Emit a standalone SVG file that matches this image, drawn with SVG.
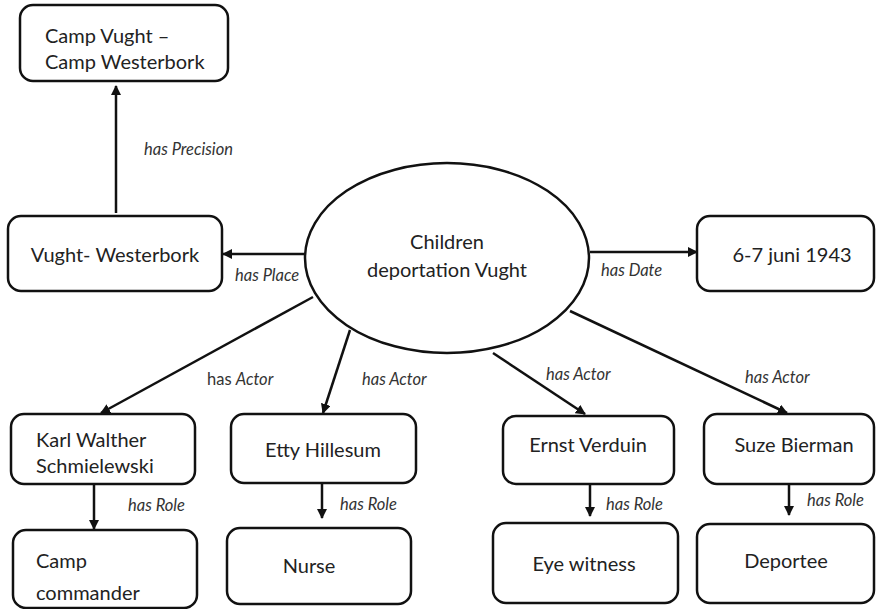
<svg xmlns="http://www.w3.org/2000/svg" width="877" height="609" viewBox="0 0 877 609">
<style>
.box{fill:#fff;stroke:#111;stroke-width:2.5}
.t{font-family:Lato,"Open Sans","Liberation Sans",sans-serif;font-size:20px;fill:#222}
.c{text-anchor:middle}
.l{font-family:Lato,"Open Sans","Liberation Sans",sans-serif;font-size:16.5px;font-style:italic;fill:#333}
.n{font-style:normal}
.e{stroke:#111;stroke-width:2.5;fill:none;marker-end:url(#ah)}
</style>
<defs>
<marker id="ah" viewBox="0 0 10 10" refX="9" refY="5" markerWidth="4" markerHeight="4" orient="auto" markerUnits="strokeWidth">
<path d="M0,0 L10,5 L0,10 z" fill="#111"/>
</marker>
</defs>
<g id="edges">
<line class="e" x1="116" y1="213" x2="116" y2="86"/>
<line class="e" x1="305" y1="254" x2="223" y2="254"/>
<line class="e" x1="590" y1="252" x2="697" y2="252"/>
<line class="e" x1="313" y1="297" x2="101" y2="413"/>
<line class="e" x1="350" y1="330" x2="323" y2="413"/>
<line class="e" x1="493" y1="353" x2="585" y2="414"/>
<line class="e" x1="570" y1="311" x2="787" y2="413"/>
<line class="e" x1="94" y1="484" x2="94" y2="529"/>
<line class="e" x1="322" y1="483" x2="322" y2="518"/>
<line class="e" x1="590" y1="484" x2="590" y2="516"/>
<line class="e" x1="789" y1="484" x2="789" y2="515"/>
<text class="l" x="144" y="155">has Precision</text>
<text class="l" x="235" y="281">has Place</text>
<text class="l" x="601" y="276">has Date</text>
<text class="l" x="207" y="385"><tspan class="n">has </tspan>Actor</text>
<text class="l" x="362" y="385">has Actor</text>
<text class="l" x="546" y="380">has Actor</text>
<text class="l" x="745" y="383">has Actor</text>
<text class="l" x="128" y="511">has Role</text>
<text class="l" x="340" y="510">has Role</text>
<text class="l" x="606" y="510">has Role</text>
<text class="l" x="807" y="506">has Role</text>
</g>
<g id="n-center">
<ellipse class="box" cx="447" cy="258" rx="142" ry="95"/>
<text class="t c" x="447" y="249">Children</text>
<text class="t c" x="447" y="277">deportation Vught</text>
</g>
<g id="n-precision">
<rect class="box" x="20" y="5" width="208" height="76" rx="13"/>
<text class="t" x="45" y="43">Camp Vught –</text>
<text class="t" x="45" y="69">Camp Westerbork</text>
</g>
<g id="n-place">
<rect class="box" x="8" y="216" width="214" height="75" rx="13"/>
<text class="t c" x="115" y="262">Vught- Westerbork</text>
</g>
<g id="n-date">
<rect class="box" x="697" y="216" width="177" height="75" rx="13"/>
<text class="t c" x="792" y="262">6-7 juni 1943</text>
</g>
<g id="n-karl">
<rect class="box" x="11" y="414" width="184" height="70" rx="13"/>
<text class="t" x="36" y="447">Karl Walther</text>
<text class="t" x="36" y="473">Schmielewski</text>
</g>
<g id="n-camp">
<rect class="box" x="13" y="530" width="184" height="78" rx="13"/>
<text class="t" x="36" y="568">Camp</text>
<text class="t" x="36" y="600">commander</text>
</g>
<g id="n-etty">
<rect class="box" x="231" y="414" width="185" height="69" rx="13"/>
<text class="t c" x="323" y="457">Etty Hillesum</text>
</g>
<g id="n-nurse">
<rect class="box" x="227" y="528" width="184" height="76" rx="13"/>
<text class="t c" x="309" y="573">Nurse</text>
</g>
<g id="n-ernst">
<rect class="box" x="503" y="416" width="171" height="68" rx="13"/>
<text class="t c" x="588" y="452">Ernst Verduin</text>
</g>
<g id="n-eye">
<rect class="box" x="493" y="523" width="185" height="80" rx="13"/>
<text class="t c" x="584" y="571">Eye witness</text>
</g>
<g id="n-suze">
<rect class="box" x="704" y="414" width="170" height="70" rx="13"/>
<text class="t c" x="794" y="452">Suze Bierman</text>
</g>
<g id="n-deportee">
<rect class="box" x="697" y="524" width="177" height="79" rx="13"/>
<text class="t c" x="786" y="568">Deportee</text>
</g>
</svg>
